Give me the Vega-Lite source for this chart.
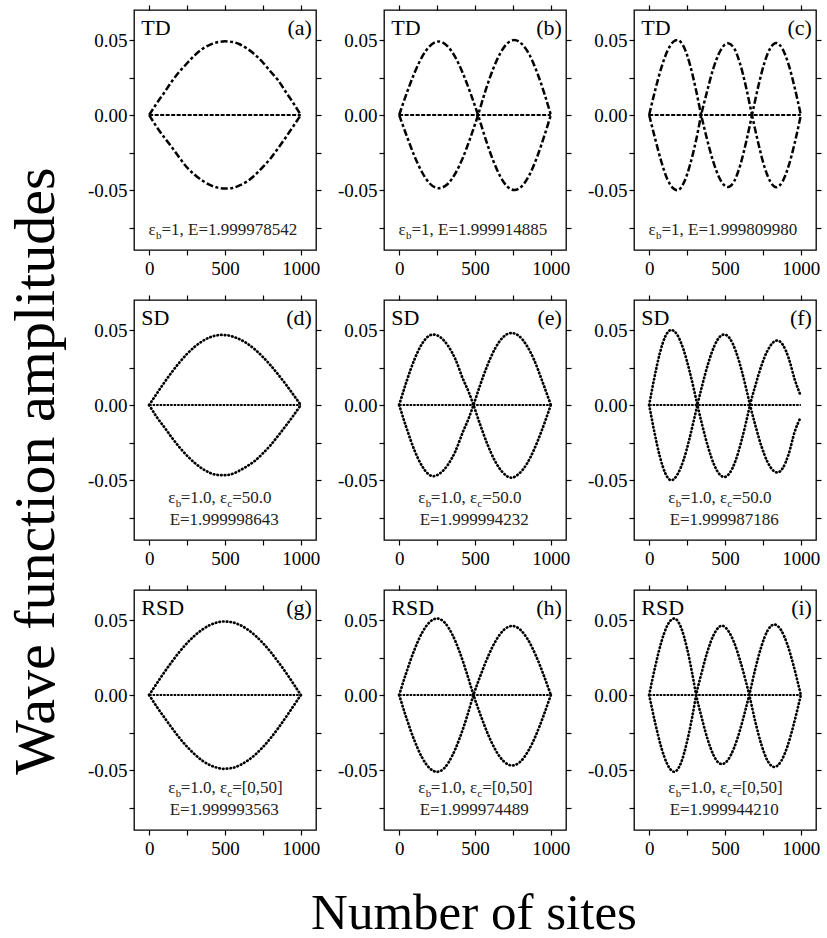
{
"$schema": "https://vega.github.io/schema/vega-lite/v6.json",
"padding": {"left": 7, "top": 3, "right": 0, "bottom": 2},
"background": "white",
"title": {"text": "Number of sites", "orient": "bottom", "anchor": "middle", "frame": "bounds", "fontSize": 51, "font": "Liberation Serif", "fontWeight": "normal", "color": "black", "offset": 30, "dx": 59},
"config": {"view": {"stroke": "black", "strokeWidth": 1.3}, "font": "Liberation Serif", "header": {"labelExpr": "''", "labelFontSize": 0.1, "labelPadding": 0, "labelColor": "transparent", "title": null}},
"datasets": {"pts": [
{"p":"a","c":"Z","x":0,"y":0},{"p":"a","c":"Z","x":1000,"y":0},
{"p":"b","c":"Z","x":0,"y":0},{"p":"b","c":"Z","x":1000,"y":0},
{"p":"c","c":"Z","x":0,"y":0},{"p":"c","c":"Z","x":1000,"y":0},
{"p":"d","c":"Z","x":0,"y":0},{"p":"d","c":"Z","x":1000,"y":0},
{"p":"e","c":"Z","x":0,"y":0},{"p":"e","c":"Z","x":1000,"y":0},
{"p":"f","c":"Z","x":0,"y":0},{"p":"f","c":"Z","x":1000,"y":0},
{"p":"g","c":"Z","x":0,"y":0},{"p":"g","c":"Z","x":1000,"y":0},
{"p":"h","c":"Z","x":0,"y":0},{"p":"h","c":"Z","x":1000,"y":0},
{"p":"i","c":"Z","x":0,"y":0},{"p":"i","c":"Z","x":1000,"y":0},
{"p":"a","c":"A","x":0,"y":0},{"p":"a","c":"A","x":50,"y":0.0078},{"p":"a","c":"A","x":100,"y":0.0150},{"p":"a","c":"A","x":150,"y":0.0225},{"p":"a","c":"A","x":200,"y":0.0290},{"p":"a","c":"A","x":250,"y":0.0345},{"p":"a","c":"A","x":300,"y":0.0398},{"p":"a","c":"A","x":350,"y":0.0440},{"p":"a","c":"A","x":400,"y":0.0468},{"p":"a","c":"A","x":450,"y":0.0485},{"p":"a","c":"A","x":500,"y":0.0491},{"p":"a","c":"A","x":550,"y":0.0487},{"p":"a","c":"A","x":600,"y":0.0470},{"p":"a","c":"A","x":650,"y":0.0440},{"p":"a","c":"A","x":700,"y":0.0400},{"p":"a","c":"A","x":750,"y":0.0350},{"p":"a","c":"A","x":800,"y":0.0290},{"p":"a","c":"A","x":850,"y":0.0232},{"p":"a","c":"A","x":900,"y":0.0155},{"p":"a","c":"A","x":950,"y":0.0080},{"p":"a","c":"A","x":1000,"y":0},
{"p":"a","c":"B","x":0,"y":0},{"p":"a","c":"B","x":50,"y":-0.0080},{"p":"a","c":"B","x":100,"y":-0.0150},{"p":"a","c":"B","x":150,"y":-0.0215},{"p":"a","c":"B","x":200,"y":-0.0285},{"p":"a","c":"B","x":250,"y":-0.0350},{"p":"a","c":"B","x":300,"y":-0.0398},{"p":"a","c":"B","x":350,"y":-0.0437},{"p":"a","c":"B","x":400,"y":-0.0466},{"p":"a","c":"B","x":450,"y":-0.0484},{"p":"a","c":"B","x":500,"y":-0.0490},{"p":"a","c":"B","x":550,"y":-0.0486},{"p":"a","c":"B","x":600,"y":-0.0468},{"p":"a","c":"B","x":650,"y":-0.0440},{"p":"a","c":"B","x":700,"y":-0.0398},{"p":"a","c":"B","x":750,"y":-0.0346},{"p":"a","c":"B","x":800,"y":-0.0290},{"p":"a","c":"B","x":850,"y":-0.0222},{"p":"a","c":"B","x":900,"y":-0.0150},{"p":"a","c":"B","x":950,"y":-0.0075},{"p":"a","c":"B","x":1000,"y":0},
{"p":"b","c":"A","x":0,"y":0},{"p":"b","c":"A","x":50,"y":0.0146},{"p":"b","c":"A","x":100,"y":0.0278},{"p":"b","c":"A","x":150,"y":0.0386},{"p":"b","c":"A","x":200,"y":0.0458},{"p":"b","c":"A","x":260,"y":0.0490},{"p":"b","c":"A","x":320,"y":0.0458},{"p":"b","c":"A","x":370,"y":0.0386},{"p":"b","c":"A","x":420,"y":0.0278},{"p":"b","c":"A","x":470,"y":0.0146},{"p":"b","c":"A","x":520,"y":0},{"p":"b","c":"A","x":570,"y":-0.0161},{"p":"b","c":"A","x":620,"y":-0.0304},{"p":"b","c":"A","x":670,"y":-0.0416},{"p":"b","c":"A","x":710,"y":-0.0474},{"p":"b","c":"A","x":760,"y":-0.0500},{"p":"b","c":"A","x":810,"y":-0.0474},{"p":"b","c":"A","x":860,"y":-0.0397},{"p":"b","c":"A","x":910,"y":-0.0278},{"p":"b","c":"A","x":960,"y":-0.0130},{"p":"b","c":"A","x":1000,"y":0},
{"p":"b","c":"B","x":0,"y":0},{"p":"b","c":"B","x":50,"y":-0.0140},{"p":"b","c":"B","x":100,"y":-0.0272},{"p":"b","c":"B","x":150,"y":-0.0380},{"p":"b","c":"B","x":200,"y":-0.0455},{"p":"b","c":"B","x":260,"y":-0.0488},{"p":"b","c":"B","x":320,"y":-0.0460},{"p":"b","c":"B","x":370,"y":-0.0390},{"p":"b","c":"B","x":420,"y":-0.0285},{"p":"b","c":"B","x":470,"y":-0.0150},{"p":"b","c":"B","x":520,"y":0},{"p":"b","c":"B","x":570,"y":0.0165},{"p":"b","c":"B","x":620,"y":0.0308},{"p":"b","c":"B","x":670,"y":0.0418},{"p":"b","c":"B","x":710,"y":0.0475},{"p":"b","c":"B","x":760,"y":0.0500},{"p":"b","c":"B","x":810,"y":0.0472},{"p":"b","c":"B","x":860,"y":0.0400},{"p":"b","c":"B","x":910,"y":0.0282},{"p":"b","c":"B","x":960,"y":0.0135},{"p":"b","c":"B","x":1000,"y":0},
{"p":"c","c":"A","x":0,"y":0},{"p":"c","c":"A","x":40,"y":0.0167},{"p":"c","c":"A","x":80,"y":0.0314},{"p":"c","c":"A","x":120,"y":0.0426},{"p":"c","c":"A","x":160,"y":0.0489},{"p":"c","c":"A","x":185,"y":0.0500},{"p":"c","c":"A","x":230,"y":0.0451},{"p":"c","c":"A","x":270,"y":0.0332},{"p":"c","c":"A","x":310,"y":0.0161},{"p":"c","c":"A","x":343,"y":0},{"p":"c","c":"A","x":380,"y":-0.0155},{"p":"c","c":"A","x":420,"y":-0.0303},{"p":"c","c":"A","x":460,"y":-0.0413},{"p":"c","c":"A","x":490,"y":-0.0463},{"p":"c","c":"A","x":520,"y":-0.0480},{"p":"c","c":"A","x":560,"y":-0.0443},{"p":"c","c":"A","x":600,"y":-0.0336},{"p":"c","c":"A","x":640,"y":-0.0177},{"p":"c","c":"A","x":678,"y":0},{"p":"c","c":"A","x":720,"y":0.0193},{"p":"c","c":"A","x":760,"y":0.0348},{"p":"c","c":"A","x":800,"y":0.0448},{"p":"c","c":"A","x":837,"y":0.0480},{"p":"c","c":"A","x":880,"y":0.0439},{"p":"c","c":"A","x":920,"y":0.0334},{"p":"c","c":"A","x":960,"y":0.0180},{"p":"c","c":"A","x":1000,"y":0},
{"p":"c","c":"B","x":0,"y":0},{"p":"c","c":"B","x":40,"y":-0.0160},{"p":"c","c":"B","x":80,"y":-0.0310},{"p":"c","c":"B","x":120,"y":-0.0428},{"p":"c","c":"B","x":160,"y":-0.0490},{"p":"c","c":"B","x":185,"y":-0.0502},{"p":"c","c":"B","x":230,"y":-0.0448},{"p":"c","c":"B","x":270,"y":-0.0330},{"p":"c","c":"B","x":310,"y":-0.0165},{"p":"c","c":"B","x":343,"y":0},{"p":"c","c":"B","x":380,"y":0.0150},{"p":"c","c":"B","x":420,"y":0.0300},{"p":"c","c":"B","x":460,"y":0.0410},{"p":"c","c":"B","x":490,"y":0.0460},{"p":"c","c":"B","x":520,"y":0.0478},{"p":"c","c":"B","x":560,"y":0.0445},{"p":"c","c":"B","x":600,"y":0.0340},{"p":"c","c":"B","x":640,"y":0.0180},{"p":"c","c":"B","x":678,"y":0},{"p":"c","c":"B","x":720,"y":-0.0190},{"p":"c","c":"B","x":760,"y":-0.0345},{"p":"c","c":"B","x":800,"y":-0.0446},{"p":"c","c":"B","x":837,"y":-0.0482},{"p":"c","c":"B","x":880,"y":-0.0442},{"p":"c","c":"B","x":920,"y":-0.0338},{"p":"c","c":"B","x":960,"y":-0.0185},{"p":"c","c":"B","x":1000,"y":0},
{"p":"d","c":"A","x":0,"y":0},{"p":"d","c":"A","x":50,"y":0.0076},{"p":"d","c":"A","x":100,"y":0.0150},{"p":"d","c":"A","x":150,"y":0.0220},{"p":"d","c":"A","x":200,"y":0.0284},{"p":"d","c":"A","x":250,"y":0.0341},{"p":"d","c":"A","x":300,"y":0.0388},{"p":"d","c":"A","x":350,"y":0.0425},{"p":"d","c":"A","x":400,"y":0.0451},{"p":"d","c":"A","x":440,"y":0.0463},{"p":"d","c":"A","x":480,"y":0.0467},{"p":"d","c":"A","x":520,"y":0.0464},{"p":"d","c":"A","x":560,"y":0.0453},{"p":"d","c":"A","x":600,"y":0.0437},{"p":"d","c":"A","x":650,"y":0.0407},{"p":"d","c":"A","x":700,"y":0.0368},{"p":"d","c":"A","x":750,"y":0.0320},{"p":"d","c":"A","x":800,"y":0.0265},{"p":"d","c":"A","x":850,"y":0.0204},{"p":"d","c":"A","x":900,"y":0.0139},{"p":"d","c":"A","x":950,"y":0.0070},{"p":"d","c":"A","x":1000,"y":0},
{"p":"d","c":"B","x":0,"y":0},{"p":"d","c":"B","x":50,"y":-0.0080},{"p":"d","c":"B","x":100,"y":-0.0148},{"p":"d","c":"B","x":150,"y":-0.0218},{"p":"d","c":"B","x":200,"y":-0.0282},{"p":"d","c":"B","x":250,"y":-0.0338},{"p":"d","c":"B","x":300,"y":-0.0386},{"p":"d","c":"B","x":350,"y":-0.0424},{"p":"d","c":"B","x":400,"y":-0.0452},{"p":"d","c":"B","x":440,"y":-0.0465},{"p":"d","c":"B","x":480,"y":-0.0468},{"p":"d","c":"B","x":520,"y":-0.0466},{"p":"d","c":"B","x":560,"y":-0.0455},{"p":"d","c":"B","x":600,"y":-0.0435},{"p":"d","c":"B","x":650,"y":-0.0405},{"p":"d","c":"B","x":700,"y":-0.0370},{"p":"d","c":"B","x":750,"y":-0.0322},{"p":"d","c":"B","x":800,"y":-0.0268},{"p":"d","c":"B","x":850,"y":-0.0205},{"p":"d","c":"B","x":900,"y":-0.0140},{"p":"d","c":"B","x":950,"y":-0.0072},{"p":"d","c":"B","x":1000,"y":0},
{"p":"e","c":"A","x":0,"y":0},{"p":"e","c":"A","x":50,"y":0.0161},{"p":"e","c":"A","x":100,"y":0.0302},{"p":"e","c":"A","x":150,"y":0.0407},{"p":"e","c":"A","x":190,"y":0.0456},{"p":"e","c":"A","x":225,"y":0.0470},{"p":"e","c":"A","x":270,"y":0.0453},{"p":"e","c":"A","x":320,"y":0.0398},{"p":"e","c":"A","x":370,"y":0.0307},{"p":"e","c":"A","x":420,"y":0.0175},{"p":"e","c":"A","x":460,"y":0.0083},{"p":"e","c":"A","x":490,"y":0},{"p":"e","c":"A","x":530,"y":-0.0119},{"p":"e","c":"A","x":580,"y":-0.0257},{"p":"e","c":"A","x":630,"y":-0.0370},{"p":"e","c":"A","x":680,"y":-0.0446},{"p":"e","c":"A","x":740,"y":-0.0485},{"p":"e","c":"A","x":790,"y":-0.0458},{"p":"e","c":"A","x":840,"y":-0.0395},{"p":"e","c":"A","x":890,"y":-0.0296},{"p":"e","c":"A","x":940,"y":-0.0170},{"p":"e","c":"A","x":1000,"y":0},
{"p":"e","c":"B","x":0,"y":0},{"p":"e","c":"B","x":50,"y":-0.0158},{"p":"e","c":"B","x":100,"y":-0.0300},{"p":"e","c":"B","x":150,"y":-0.0405},{"p":"e","c":"B","x":190,"y":-0.0458},{"p":"e","c":"B","x":225,"y":-0.0475},{"p":"e","c":"B","x":270,"y":-0.0455},{"p":"e","c":"B","x":320,"y":-0.0400},{"p":"e","c":"B","x":370,"y":-0.0310},{"p":"e","c":"B","x":420,"y":-0.0180},{"p":"e","c":"B","x":460,"y":-0.0085},{"p":"e","c":"B","x":490,"y":0},{"p":"e","c":"B","x":530,"y":0.0121},{"p":"e","c":"B","x":580,"y":0.0260},{"p":"e","c":"B","x":630,"y":0.0372},{"p":"e","c":"B","x":680,"y":0.0447},{"p":"e","c":"B","x":740,"y":0.0480},{"p":"e","c":"B","x":790,"y":0.0460},{"p":"e","c":"B","x":840,"y":0.0398},{"p":"e","c":"B","x":890,"y":0.0300},{"p":"e","c":"B","x":940,"y":0.0168},{"p":"e","c":"B","x":1000,"y":0},
{"p":"f","c":"A","x":0,"y":0},{"p":"f","c":"A","x":35,"y":0.0185},{"p":"f","c":"A","x":70,"y":0.0344},{"p":"f","c":"A","x":105,"y":0.0454},{"p":"f","c":"A","x":145,"y":0.0500},{"p":"f","c":"A","x":185,"y":0.0468},{"p":"f","c":"A","x":225,"y":0.0374},{"p":"f","c":"A","x":265,"y":0.0231},{"p":"f","c":"A","x":295,"y":0.0104},{"p":"f","c":"A","x":318,"y":0},{"p":"f","c":"A","x":350,"y":-0.0135},{"p":"f","c":"A","x":390,"y":-0.0286},{"p":"f","c":"A","x":430,"y":-0.0402},{"p":"f","c":"A","x":465,"y":-0.0463},{"p":"f","c":"A","x":495,"y":-0.0480},{"p":"f","c":"A","x":530,"y":-0.0455},{"p":"f","c":"A","x":570,"y":-0.0370},{"p":"f","c":"A","x":610,"y":-0.0234},{"p":"f","c":"A","x":640,"y":-0.0110},{"p":"f","c":"A","x":665,"y":0},{"p":"f","c":"A","x":700,"y":0.0129},{"p":"f","c":"A","x":740,"y":0.0262},{"p":"f","c":"A","x":780,"y":0.0362},{"p":"f","c":"A","x":815,"y":0.0415},{"p":"f","c":"A","x":845,"y":0.0430},{"p":"f","c":"A","x":880,"y":0.0403},{"p":"f","c":"A","x":920,"y":0.0312},{"p":"f","c":"A","x":960,"y":0.0169},{"p":"f","c":"A","x":1000,"y":0.0060},
{"p":"f","c":"B","x":0,"y":0},{"p":"f","c":"B","x":35,"y":-0.0183},{"p":"f","c":"B","x":70,"y":-0.0342},{"p":"f","c":"B","x":105,"y":-0.0452},{"p":"f","c":"B","x":145,"y":-0.0502},{"p":"f","c":"B","x":185,"y":-0.0465},{"p":"f","c":"B","x":225,"y":-0.0372},{"p":"f","c":"B","x":265,"y":-0.0228},{"p":"f","c":"B","x":295,"y":-0.0100},{"p":"f","c":"B","x":318,"y":0},{"p":"f","c":"B","x":350,"y":0.0132},{"p":"f","c":"B","x":390,"y":0.0280},{"p":"f","c":"B","x":430,"y":0.0394},{"p":"f","c":"B","x":465,"y":0.0454},{"p":"f","c":"B","x":495,"y":0.0470},{"p":"f","c":"B","x":530,"y":0.0446},{"p":"f","c":"B","x":570,"y":0.0362},{"p":"f","c":"B","x":610,"y":0.0229},{"p":"f","c":"B","x":640,"y":0.0108},{"p":"f","c":"B","x":665,"y":0},{"p":"f","c":"B","x":700,"y":-0.0135},{"p":"f","c":"B","x":740,"y":-0.0274},{"p":"f","c":"B","x":780,"y":-0.0379},{"p":"f","c":"B","x":815,"y":-0.0434},{"p":"f","c":"B","x":845,"y":-0.0450},{"p":"f","c":"B","x":880,"y":-0.0422},{"p":"f","c":"B","x":920,"y":-0.0326},{"p":"f","c":"B","x":960,"y":-0.0177},{"p":"f","c":"B","x":1000,"y":-0.0080},
{"p":"g","c":"A","x":0,"y":0},{"p":"g","c":"A","x":50,"y":0.0077},{"p":"g","c":"A","x":100,"y":0.0152},{"p":"g","c":"A","x":150,"y":0.0222},{"p":"g","c":"A","x":200,"y":0.0288},{"p":"g","c":"A","x":250,"y":0.0346},{"p":"g","c":"A","x":300,"y":0.0396},{"p":"g","c":"A","x":350,"y":0.0436},{"p":"g","c":"A","x":400,"y":0.0466},{"p":"g","c":"A","x":450,"y":0.0484},{"p":"g","c":"A","x":490,"y":0.0490},{"p":"g","c":"A","x":550,"y":0.0484},{"p":"g","c":"A","x":600,"y":0.0466},{"p":"g","c":"A","x":650,"y":0.0436},{"p":"g","c":"A","x":700,"y":0.0396},{"p":"g","c":"A","x":750,"y":0.0346},{"p":"g","c":"A","x":800,"y":0.0288},{"p":"g","c":"A","x":850,"y":0.0222},{"p":"g","c":"A","x":900,"y":0.0152},{"p":"g","c":"A","x":950,"y":0.0077},{"p":"g","c":"A","x":1000,"y":0},
{"p":"g","c":"B","x":0,"y":0},{"p":"g","c":"B","x":50,"y":-0.0078},{"p":"g","c":"B","x":100,"y":-0.0150},{"p":"g","c":"B","x":150,"y":-0.0220},{"p":"g","c":"B","x":200,"y":-0.0286},{"p":"g","c":"B","x":250,"y":-0.0345},{"p":"g","c":"B","x":300,"y":-0.0395},{"p":"g","c":"B","x":350,"y":-0.0437},{"p":"g","c":"B","x":400,"y":-0.0467},{"p":"g","c":"B","x":450,"y":-0.0485},{"p":"g","c":"B","x":490,"y":-0.0492},{"p":"g","c":"B","x":550,"y":-0.0486},{"p":"g","c":"B","x":600,"y":-0.0467},{"p":"g","c":"B","x":650,"y":-0.0437},{"p":"g","c":"B","x":700,"y":-0.0397},{"p":"g","c":"B","x":750,"y":-0.0347},{"p":"g","c":"B","x":800,"y":-0.0288},{"p":"g","c":"B","x":850,"y":-0.0222},{"p":"g","c":"B","x":900,"y":-0.0150},{"p":"g","c":"B","x":950,"y":-0.0075},{"p":"g","c":"B","x":1000,"y":0},
{"p":"h","c":"A","x":0,"y":0},{"p":"h","c":"A","x":50,"y":0.0158},{"p":"h","c":"A","x":100,"y":0.0300},{"p":"h","c":"A","x":150,"y":0.0413},{"p":"h","c":"A","x":200,"y":0.0485},{"p":"h","c":"A","x":250,"y":0.0510},{"p":"h","c":"A","x":300,"y":0.0483},{"p":"h","c":"A","x":350,"y":0.0404},{"p":"h","c":"A","x":400,"y":0.0283},{"p":"h","c":"A","x":450,"y":0.0132},{"p":"h","c":"A","x":490,"y":0},{"p":"h","c":"A","x":540,"y":-0.0143},{"p":"h","c":"A","x":590,"y":-0.0272},{"p":"h","c":"A","x":640,"y":-0.0375},{"p":"h","c":"A","x":690,"y":-0.0443},{"p":"h","c":"A","x":745,"y":-0.0470},{"p":"h","c":"A","x":800,"y":-0.0443},{"p":"h","c":"A","x":850,"y":-0.0375},{"p":"h","c":"A","x":900,"y":-0.0272},{"p":"h","c":"A","x":950,"y":-0.0143},{"p":"h","c":"A","x":1000,"y":0},
{"p":"h","c":"B","x":0,"y":0},{"p":"h","c":"B","x":50,"y":-0.0160},{"p":"h","c":"B","x":100,"y":-0.0302},{"p":"h","c":"B","x":150,"y":-0.0415},{"p":"h","c":"B","x":200,"y":-0.0487},{"p":"h","c":"B","x":250,"y":-0.0512},{"p":"h","c":"B","x":300,"y":-0.0485},{"p":"h","c":"B","x":350,"y":-0.0405},{"p":"h","c":"B","x":400,"y":-0.0285},{"p":"h","c":"B","x":450,"y":-0.0135},{"p":"h","c":"B","x":490,"y":0},{"p":"h","c":"B","x":540,"y":0.0140},{"p":"h","c":"B","x":590,"y":0.0266},{"p":"h","c":"B","x":640,"y":0.0367},{"p":"h","c":"B","x":690,"y":0.0434},{"p":"h","c":"B","x":745,"y":0.0460},{"p":"h","c":"B","x":800,"y":0.0434},{"p":"h","c":"B","x":850,"y":0.0367},{"p":"h","c":"B","x":900,"y":0.0266},{"p":"h","c":"B","x":950,"y":0.0140},{"p":"h","c":"B","x":1000,"y":0},
{"p":"i","c":"A","x":0,"y":0},{"p":"i","c":"A","x":40,"y":0.0190},{"p":"i","c":"A","x":80,"y":0.0352},{"p":"i","c":"A","x":120,"y":0.0464},{"p":"i","c":"A","x":165,"y":0.0510},{"p":"i","c":"A","x":210,"y":0.0450},{"p":"i","c":"A","x":250,"y":0.0309},{"p":"i","c":"A","x":285,"y":0.0137},{"p":"i","c":"A","x":310,"y":0},{"p":"i","c":"A","x":345,"y":-0.0146},{"p":"i","c":"A","x":385,"y":-0.0294},{"p":"i","c":"A","x":425,"y":-0.0402},{"p":"i","c":"A","x":455,"y":-0.0449},{"p":"i","c":"A","x":480,"y":-0.0460},{"p":"i","c":"A","x":520,"y":-0.0432},{"p":"i","c":"A","x":560,"y":-0.0352},{"p":"i","c":"A","x":600,"y":-0.0230},{"p":"i","c":"A","x":635,"y":-0.0099},{"p":"i","c":"A","x":660,"y":0},{"p":"i","c":"A","x":700,"y":0.0175},{"p":"i","c":"A","x":740,"y":0.0324},{"p":"i","c":"A","x":780,"y":0.0428},{"p":"i","c":"A","x":825,"y":0.0470},{"p":"i","c":"A","x":870,"y":0.0432},{"p":"i","c":"A","x":910,"y":0.0340},{"p":"i","c":"A","x":950,"y":0.0204},{"p":"i","c":"A","x":980,"y":0.0084},{"p":"i","c":"A","x":1000,"y":0},
{"p":"i","c":"B","x":0,"y":0},{"p":"i","c":"B","x":40,"y":-0.0188},{"p":"i","c":"B","x":80,"y":-0.0350},{"p":"i","c":"B","x":120,"y":-0.0462},{"p":"i","c":"B","x":165,"y":-0.0512},{"p":"i","c":"B","x":210,"y":-0.0452},{"p":"i","c":"B","x":250,"y":-0.0310},{"p":"i","c":"B","x":285,"y":-0.0140},{"p":"i","c":"B","x":310,"y":0},{"p":"i","c":"B","x":345,"y":0.0145},{"p":"i","c":"B","x":385,"y":0.0292},{"p":"i","c":"B","x":425,"y":0.0400},{"p":"i","c":"B","x":455,"y":0.0448},{"p":"i","c":"B","x":480,"y":0.0462},{"p":"i","c":"B","x":520,"y":0.0430},{"p":"i","c":"B","x":560,"y":0.0350},{"p":"i","c":"B","x":600,"y":0.0228},{"p":"i","c":"B","x":635,"y":0.0100},{"p":"i","c":"B","x":660,"y":0},{"p":"i","c":"B","x":700,"y":-0.0179},{"p":"i","c":"B","x":740,"y":-0.0331},{"p":"i","c":"B","x":780,"y":-0.0437},{"p":"i","c":"B","x":825,"y":-0.0480},{"p":"i","c":"B","x":870,"y":-0.0441},{"p":"i","c":"B","x":910,"y":-0.0347},{"p":"i","c":"B","x":950,"y":-0.0208},{"p":"i","c":"B","x":980,"y":-0.0086},{"p":"i","c":"B","x":1000,"y":0},
{"p":"a","k":"n","t":"TD"},{"p":"b","k":"n","t":"TD"},{"p":"c","k":"n","t":"TD"},
{"p":"d","k":"n","t":"SD"},{"p":"e","k":"n","t":"SD"},{"p":"f","k":"n","t":"SD"},
{"p":"g","k":"n","t":"RSD"},{"p":"h","k":"n","t":"RSD"},{"p":"i","k":"n","t":"RSD"},
{"p":"a","k":"g","t":"(a)"},{"p":"b","k":"g","t":"(b)"},{"p":"c","k":"g","t":"(c)"},
{"p":"d","k":"g","t":"(d)"},{"p":"e","k":"g","t":"(e)"},{"p":"f","k":"g","t":"(f)"},
{"p":"g","k":"g","t":"(g)"},{"p":"h","k":"g","t":"(h)"},{"p":"i","k":"g","t":"(i)"},
{"p":"a","k":"e","t":"=1, E=1.999978542"},{"p":"b","k":"e","t":"=1, E=1.999914885"},{"p":"c","k":"e","t":"=1, E=1.999809980"},
{"p":"d","k":"m","t":"=50.0"},{"p":"e","k":"m","t":"=50.0"},{"p":"f","k":"m","t":"=50.0"},
{"p":"g","k":"m","t":"=[0,50]"},{"p":"h","k":"m","t":"=[0,50]"},{"p":"i","k":"m","t":"=[0,50]"},
{"p":"d","k":"E","t":"E=1.999998643"},{"p":"e","k":"E","t":"E=1.999994232"},{"p":"f","k":"E","t":"E=1.999987186"},
{"p":"g","k":"E","t":"E=1.999993563"},{"p":"h","k":"E","t":"E=1.999974489"},{"p":"i","k":"E","t":"E=1.999944210"}
]},
"vconcat": [{
 "title": {"text": "Wave function amplitudes", "orient": "left", "anchor": "middle", "frame": "bounds", "fontSize": 58, "font": "Liberation Serif", "fontWeight": "normal", "color": "black", "offset": 21, "dx": -40},
 "data": {"name": "pts"},
 "facet": {"field": "p", "type": "nominal", "title": null, "header": {"labelExpr": "''", "labelFontSize": 0.1, "labelPadding": 0, "labelColor": "transparent", "title": null}},
 "columns": 3,
 "bounds": "flush",
 "spacing": {"row": 50, "column": 68},
 "resolve": {"axis": {"x": "independent", "y": "independent"}},
 "spec": {
  "width": 182, "height": 240,
  "resolve": {"axis": {"x": "independent", "y": "independent"}},
  "layer": [
   {"transform": [{"filter": "datum.c == 'Z' && indexof(['a','b','c'], datum.p) >= 0"}],
    "mark": {"type": "line", "color": "black", "strokeWidth": 2.2, "strokeDash": [4, 1.5]},
    "encoding": {
     "x": {"field": "x", "type": "quantitative", "scale": {"domain": [-100, 1100], "nice": false, "zero": false},
       "axis": {"orient": "bottom", "title": null, "values": [0, 250, 500, 750, 1000], "labelExpr": "datum.value % 500 == 0 ? '' + datum.value : ''", "grid": false, "domain": false, "tickSize": 5, "tickColor": "black", "tickWidth": 1.2, "labelPadding": 4, "labelFont": "Liberation Serif", "labelFontSize": 19, "labelColor": "black", "labelOverlap": false, "labelFlush": false}},
     "y": {"field": "y", "type": "quantitative", "scale": {"domain": [-0.09, 0.07], "nice": false, "zero": false},
       "axis": {"orient": "left", "title": null, "values": [-0.075, -0.05, -0.025, 0, 0.025, 0.05], "labelExpr": "abs(datum.value) < 1e-9 ? '0.00' : (abs(abs(datum.value) - 0.05) < 1e-9 ? (datum.value < 0 ? '-0.05' : '0.05') : '')", "grid": false, "domain": false, "tickSize": 5, "tickColor": "black", "tickWidth": 1.2, "labelPadding": 2, "labelFont": "Liberation Serif", "labelFontSize": 19, "labelColor": "black", "labelOverlap": false, "labelFlush": false}}
    }},
   {"transform": [{"filter": "datum.c == 'Z' && indexof(['a','b','c'], datum.p) < 0"}],
    "mark": {"type": "line", "color": "black", "strokeWidth": 2.2, "strokeDash": [2.5, 1]},
    "encoding": {
     "x": {"field": "x", "type": "quantitative", "scale": {"domain": [-100, 1100], "nice": false, "zero": false},
       "axis": {"orient": "top", "title": null, "values": [0, 250, 500, 750, 1000], "labels": false, "grid": false, "domain": false, "tickSize": 5, "tickColor": "black", "tickWidth": 1.2}},
     "y": {"field": "y", "type": "quantitative", "scale": {"domain": [-0.09, 0.07], "nice": false, "zero": false},
       "axis": {"orient": "right", "title": null, "values": [-0.075, -0.05, -0.025, 0, 0.025, 0.05], "labels": false, "grid": false, "domain": false, "tickSize": 5, "tickColor": "black", "tickWidth": 1.2}}
    }},
   {"transform": [{"filter": "(datum.c == 'A' || datum.c == 'B') && indexof(['a','b','c'], datum.p) >= 0"}],
    "mark": {"type": "line", "color": "black", "strokeWidth": 2.5, "strokeDash": [7, 2.5, 3, 2.5], "interpolate": "monotone"},
    "encoding": {
     "x": {"field": "x", "type": "quantitative", "scale": {"domain": [-100, 1100], "nice": false, "zero": false}, "axis": null},
     "y": {"field": "y", "type": "quantitative", "scale": {"domain": [-0.09, 0.07], "nice": false, "zero": false}, "axis": null},
     "detail": {"field": "c"}
    }},
   {"transform": [{"filter": "(datum.c == 'A' || datum.c == 'B') && indexof(['a','b','c'], datum.p) < 0"}],
    "mark": {"type": "line", "color": "black", "strokeWidth": 2.7, "strokeDash": [0.5, 3.2], "strokeCap": "round", "interpolate": "monotone"},
    "encoding": {
     "x": {"field": "x", "type": "quantitative", "scale": {"domain": [-100, 1100], "nice": false, "zero": false}, "axis": null},
     "y": {"field": "y", "type": "quantitative", "scale": {"domain": [-0.09, 0.07], "nice": false, "zero": false}, "axis": null},
     "detail": {"field": "c"}
    }},
   {"transform": [{"filter": "datum.k == 'n'"}],
    "mark": {"type": "text", "font": "Liberation Serif", "fontSize": 22, "align": "left", "baseline": "alphabetic", "color": "black"},
    "encoding": {
     "x": {"datum": -52, "type": "quantitative", "scale": {"domain": [-100, 1100], "nice": false, "zero": false}, "axis": null},
     "y": {"datum": 0.0533, "type": "quantitative", "scale": {"domain": [-0.09, 0.07], "nice": false, "zero": false}, "axis": null},
     "text": {"field": "t"}
    }},
   {"transform": [{"filter": "datum.k == 'g'"}],
    "mark": {"type": "text", "font": "Liberation Serif", "fontSize": 22, "align": "right", "baseline": "alphabetic", "color": "black"},
    "encoding": {
     "x": {"datum": 1073, "type": "quantitative", "scale": {"domain": [-100, 1100], "nice": false, "zero": false}, "axis": null},
     "y": {"datum": 0.0533, "type": "quantitative", "scale": {"domain": [-0.09, 0.07], "nice": false, "zero": false}, "axis": null},
     "text": {"field": "t"}
    }},
   {"transform": [{"filter": "datum.k == 'e'"}],
    "mark": {"type": "text", "font": "Liberation Serif", "fontSize": 17, "align": "left", "baseline": "alphabetic", "color": "#222", "text": "ε"},
    "encoding": {
     "x": {"datum": -5, "type": "quantitative", "scale": {"domain": [-100, 1100], "nice": false, "zero": false}, "axis": null},
     "y": {"datum": -0.080, "type": "quantitative", "scale": {"domain": [-0.09, 0.07], "nice": false, "zero": false}, "axis": null}
    }},
   {"transform": [{"filter": "datum.k == 'e'"}],
    "mark": {"type": "text", "font": "Liberation Serif", "fontSize": 11, "align": "left", "baseline": "alphabetic", "color": "#222", "text": "b", "dx": 7.5, "dy": 4},
    "encoding": {
     "x": {"datum": -5, "type": "quantitative", "scale": {"domain": [-100, 1100], "nice": false, "zero": false}, "axis": null},
     "y": {"datum": -0.080, "type": "quantitative", "scale": {"domain": [-0.09, 0.07], "nice": false, "zero": false}, "axis": null}
    }},
   {"transform": [{"filter": "datum.k == 'e'"}],
    "mark": {"type": "text", "font": "Liberation Serif", "fontSize": 17, "align": "left", "baseline": "alphabetic", "color": "#222", "dx": 13},
    "encoding": {
     "x": {"datum": -5, "type": "quantitative", "scale": {"domain": [-100, 1100], "nice": false, "zero": false}, "axis": null},
     "y": {"datum": -0.080, "type": "quantitative", "scale": {"domain": [-0.09, 0.07], "nice": false, "zero": false}, "axis": null},
     "text": {"field": "t"}
    }},
   {"transform": [{"filter": "datum.k == 'm'"}],
    "mark": {"type": "text", "font": "Liberation Serif", "fontSize": 17, "align": "left", "baseline": "alphabetic", "color": "#222", "text": "ε"},
    "encoding": {
     "x": {"datum": 125, "type": "quantitative", "scale": {"domain": [-100, 1100], "nice": false, "zero": false}, "axis": null},
     "y": {"datum": -0.0652, "type": "quantitative", "scale": {"domain": [-0.09, 0.07], "nice": false, "zero": false}, "axis": null}
    }},
   {"transform": [{"filter": "datum.k == 'm'"}],
    "mark": {"type": "text", "font": "Liberation Serif", "fontSize": 11, "align": "left", "baseline": "alphabetic", "color": "#222", "text": "b", "dx": 7.5, "dy": 4},
    "encoding": {
     "x": {"datum": 125, "type": "quantitative", "scale": {"domain": [-100, 1100], "nice": false, "zero": false}, "axis": null},
     "y": {"datum": -0.0652, "type": "quantitative", "scale": {"domain": [-0.09, 0.07], "nice": false, "zero": false}, "axis": null}
    }},
   {"transform": [{"filter": "datum.k == 'm'"}],
    "mark": {"type": "text", "font": "Liberation Serif", "fontSize": 17, "align": "left", "baseline": "alphabetic", "color": "#222", "text": "=1.0, ε", "dx": 12.5},
    "encoding": {
     "x": {"datum": 125, "type": "quantitative", "scale": {"domain": [-100, 1100], "nice": false, "zero": false}, "axis": null},
     "y": {"datum": -0.0652, "type": "quantitative", "scale": {"domain": [-0.09, 0.07], "nice": false, "zero": false}, "axis": null}
    }},
   {"transform": [{"filter": "datum.k == 'm'"}],
    "mark": {"type": "text", "font": "Liberation Serif", "fontSize": 11, "align": "left", "baseline": "alphabetic", "color": "#222", "text": "c", "dx": 59, "dy": 4},
    "encoding": {
     "x": {"datum": 125, "type": "quantitative", "scale": {"domain": [-100, 1100], "nice": false, "zero": false}, "axis": null},
     "y": {"datum": -0.0652, "type": "quantitative", "scale": {"domain": [-0.09, 0.07], "nice": false, "zero": false}, "axis": null}
    }},
   {"transform": [{"filter": "datum.k == 'm'"}],
    "mark": {"type": "text", "font": "Liberation Serif", "fontSize": 17, "align": "left", "baseline": "alphabetic", "color": "#222", "dx": 64},
    "encoding": {
     "x": {"datum": 125, "type": "quantitative", "scale": {"domain": [-100, 1100], "nice": false, "zero": false}, "axis": null},
     "y": {"datum": -0.0652, "type": "quantitative", "scale": {"domain": [-0.09, 0.07], "nice": false, "zero": false}, "axis": null},
     "text": {"field": "t"}
    }},
   {"transform": [{"filter": "datum.k == 'E'"}],
    "mark": {"type": "text", "font": "Liberation Serif", "fontSize": 17, "align": "center", "baseline": "alphabetic", "color": "#222"},
    "encoding": {
     "x": {"datum": 495, "type": "quantitative", "scale": {"domain": [-100, 1100], "nice": false, "zero": false}, "axis": null},
     "y": {"datum": -0.0800, "type": "quantitative", "scale": {"domain": [-0.09, 0.07], "nice": false, "zero": false}, "axis": null},
     "text": {"field": "t"}
    }}
  ]
 }
}]
}
